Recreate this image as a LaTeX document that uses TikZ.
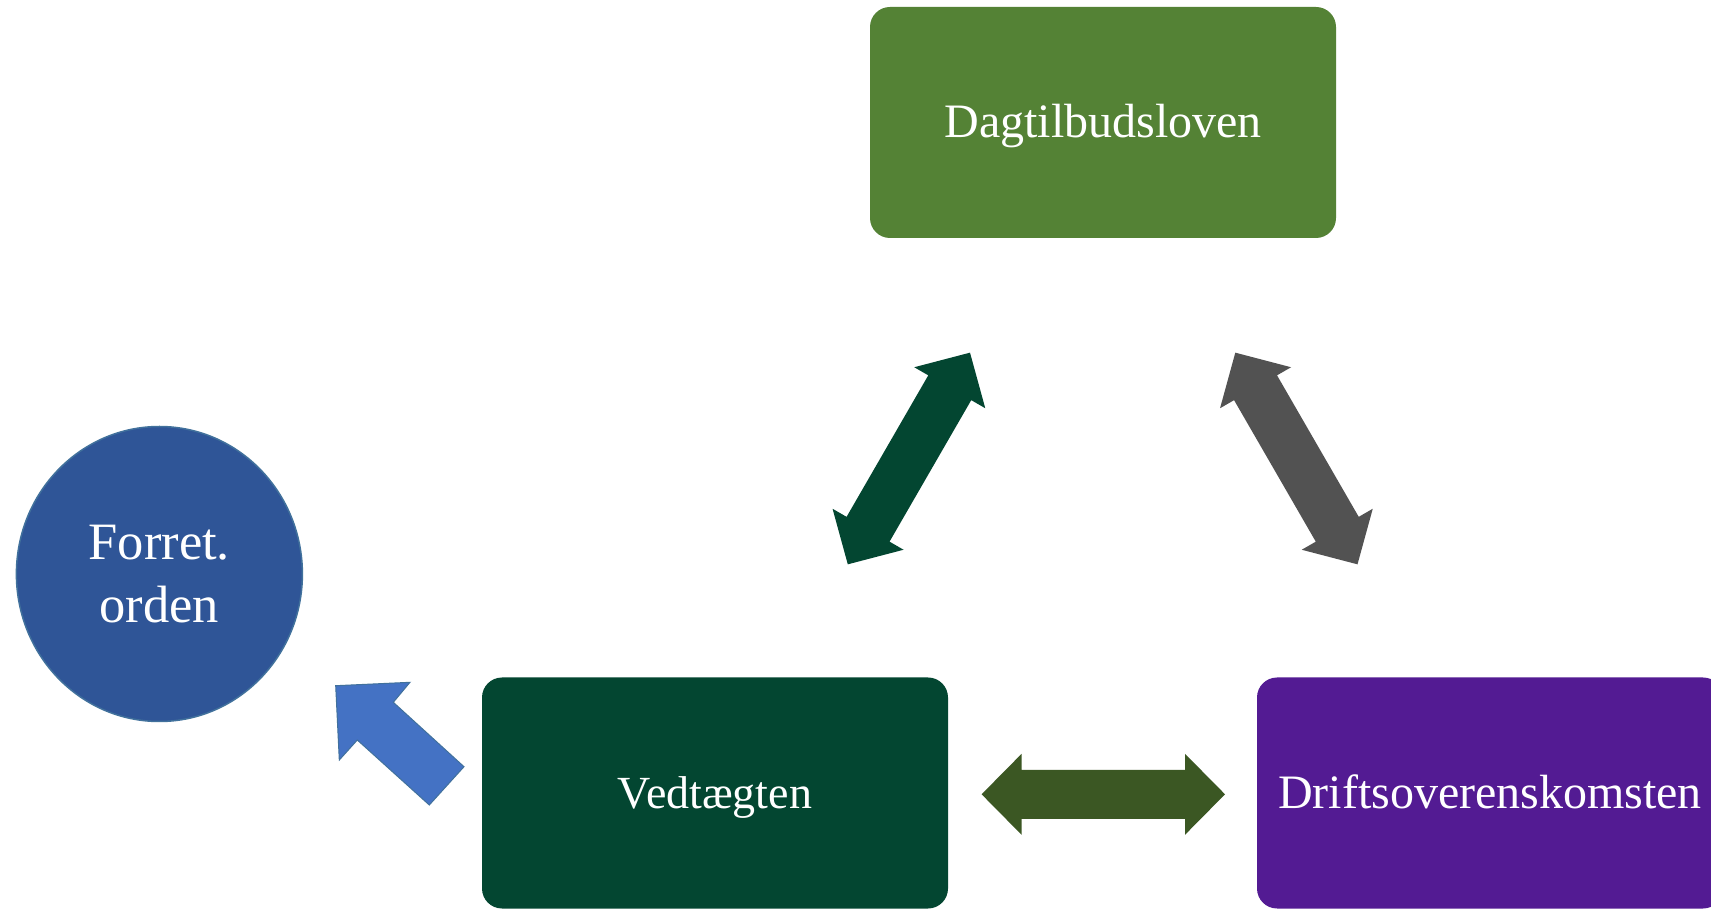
\documentclass[tikz,border=0pt]{standalone}
\usepackage{fontspec}
\setmainfont{Liberation Serif}
\usetikzlibrary{shapes.geometric}
\definecolor{gtop}{HTML}{548235}
\definecolor{dkgreen}{HTML}{034631}
\definecolor{purp}{HTML}{531B93}
\definecolor{cblue}{HTML}{2F5597}
\definecolor{ablue}{HTML}{4472C4}
\definecolor{edgeblue}{HTML}{41719C}
\definecolor{agray}{HTML}{525252}
\definecolor{olive}{HTML}{3B5723}
\tikzset{
  box/.style={rectangle, rounded corners=20pt, minimum width=466pt, minimum height=231pt,
    inner sep=0pt, text=white, text height=33pt, text depth=2pt},
  boxfont/.style={font=\fontsize{48}{58}\selectfont},
  roundnode/.style={ellipse, fill=cblue, draw=edgeblue, line width=1.5pt, minimum width=286pt,
    minimum height=295pt, inner sep=0pt, text=white, align=center,
    font=\fontsize{52.5}{63}\selectfont},
  blockarrow/.style={line join=miter}
}
\newcommand\DblArr[7]{%
  \fill[#1, blockarrow, shift={#2}, rotate=#3] (-#4,0) -- (-#4+#5,#6) -- (-#4+#5,#7) -- (#4-#5,#7)
    -- (#4-#5,#6) -- (#4,0) -- (#4-#5,-#6) -- (#4-#5,-#7) -- (-#4+#5,-#7) -- (-#4+#5,-#6) -- cycle;}
\begin{document}
\begin{tikzpicture}[x=1pt,y=1pt]
  \clip (0,0) rectangle (1711,908);
  \fill[white] (0,0) rectangle (1711,908);

  % boxes
  \node[box, boxfont, fill=gtop] (dag) at (1103,785.5) {Dagtilbudsloven};
  \node[box, fill=dkgreen, font=\fontsize{46}{56}\selectfont] (ved) at (715,115) {Vedtægten};
  \node[box, boxfont, fill=purp] (drift) at (1490,115) {Driftsoverenskomsten};
  \node[roundnode] (forret) at (159.4,334) {Forret.\\orden};

  % block arrows
  \coordinate (a1) at (908.9,449.5);
  \coordinate (a2) at (1296.4,449.5);
  \coordinate (a3) at (1103.3,113.7);
  \DblArr{dkgreen}{(a1)}{60}{122.2}{40.5}{41}{24.8}
  \DblArr{agray}{(a2)}{-60}{122.2}{40.5}{41}{24.8}
  \DblArr{olive}{(a3)}{0}{121.7}{40}{40.5}{24.5}

  \filldraw[fill=ablue, draw=edgeblue, line width=1pt, blockarrow]
    (335.7,222.3) -- (410,225.7) -- (393.3,205.7) -- (464,141.3) -- (429.3,103)
    -- (357.3,168) -- (339.3,148) -- cycle;
\end{tikzpicture}
\end{document}
